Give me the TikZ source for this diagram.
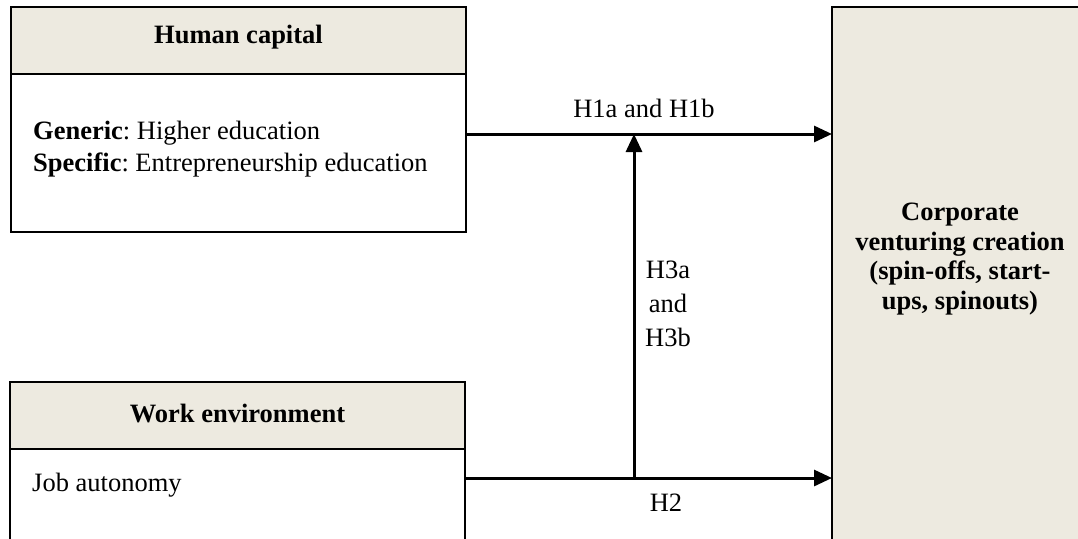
\documentclass[tikz,border=0pt]{standalone}
\usepackage{fontspec}
\setmainfont{Liberation Serif}
\usetikzlibrary{arrows.meta}
\definecolor{boxfill}{HTML}{EDEAE0}
\frenchspacing
\begin{document}
\begin{tikzpicture}[x=1pt,y=-1pt,
  frame/.style={draw=black,line width=2pt},
  headfont/.style={font=\fontsize{26.5}{34}\selectfont\bfseries},
  txt/.style={font=\fontsize{26.5}{32}\selectfont,inner sep=0pt},
  arr/.style={line width=3pt,-{Triangle[length=18pt,width=16pt]}}]
\useasboundingbox (0,0) rectangle (1078,538);
% right-hand outcome block
\filldraw[boxfill,draw=black,line width=2pt] (832,7) -- (832,545) -- (1090,545) -- (1090,7) -- cycle;
\node[txt,font=\fontsize{26.5}{29.5}\selectfont\bfseries,align=center] (cv) at (960,259)
  {Corporate\\venturing creation\\(spin-offs, start-\\ups, spinouts)};
\coordinate (cvtop) at (832,134);
\coordinate (cvbot) at (832,478);
% human capital block
\fill[boxfill] (11,7) rectangle (466,74);
\draw[frame] (11,7) rectangle (466,232);
\draw[frame] (11,74) -- (466,74);
\node[txt,headfont] (hchead) at (238.5,37) {Human capital};
\node[txt,anchor=west,align=left] (hcbody) at (33,149)
  {\textbf{Generic}: Higher education\\\textbf{Specific}: Entrepreneurship education};
\coordinate (hcout) at (466,134);
% work environment block
\fill[boxfill] (10,382) rectangle (465,449);
\draw[frame] (10,545) -- (10,382) -- (465,382) -- (465,545);
\draw[frame] (10,449) -- (465,449);
\node[txt,headfont] (wehead) at (237.5,414) {Work environment};
\node[txt,anchor=west] (webody) at (32,485) {Job autonomy};
\coordinate (weout) at (465,478);
% hypothesised paths
\coordinate (mod) at (634,478);
\draw[arr] (hcout) -- (cvtop);
\draw[arr] (weout) -- (cvbot);
\draw[arr] (mod) -- (mod |- hcout);
\node[txt] (h1) at (644,108) {H1a and H1b};
\node[txt,align=center,font=\fontsize{26.5}{34}\selectfont] (h3) at (668,304) {H3a\\and\\H3b};
\node[txt] (h2) at (666,503) {H2};
\end{tikzpicture}
\end{document}
